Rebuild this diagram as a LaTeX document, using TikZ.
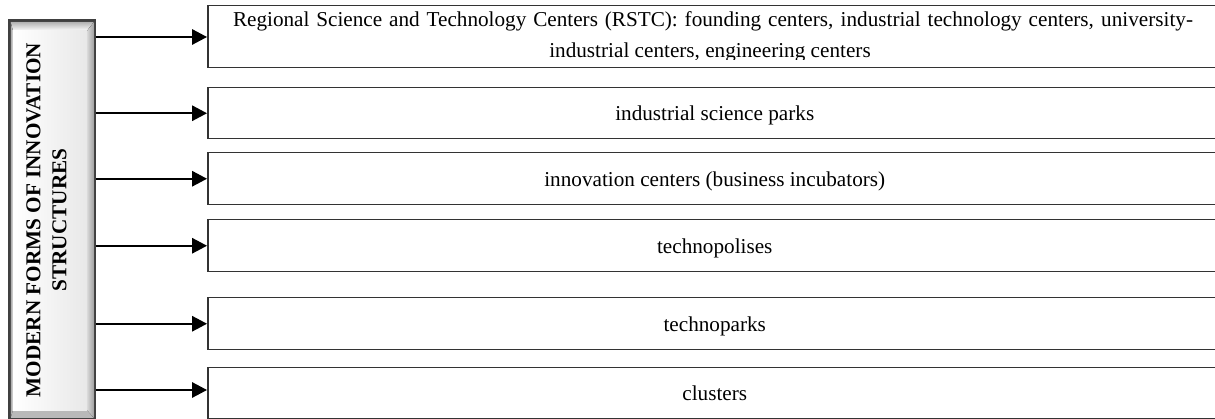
\documentclass[tikz,border=0pt]{standalone}
\usepackage{fontspec}
\setmainfont{Liberation Serif}
\usetikzlibrary{arrows.meta}
\tikzset{
  itembox/.style={draw=black!80, line width=1.5pt, minimum width=1014pt, minimum height=#1,
    inner sep=0pt, anchor=north west, text height=18pt, text depth=3pt,
    font=\fontsize{21.2}{25}\selectfont},
  linetxt/.style={inner sep=0pt, anchor=base, font=\fontsize{21.2}{25}\selectfont},
  conn/.style={line width=1.6pt, -{Triangle[length=15pt,width=15.5pt]}},
  titletxt/.style={rotate=90, align=center, inner sep=0pt, font=\bfseries\fontsize{21.2}{26}\selectfont}
}
\begin{document}
\begin{tikzpicture}[x=1pt,y=-1pt]
\path[use as bounding box] (0,0) rectangle (1215,419);
\begin{scope}
\clip (0,0) rectangle (1215,419);
% left bevelled box
\node[draw=black!75, line width=1.5pt, fill=gray!55, minimum width=85pt, minimum height=398pt, inner sep=0pt] (main) at (52.25,220) {};
\fill[top color=gray!60, bottom color=white] (10.5,22) -- (94,22) -- (87,31) -- (13,31) -- cycle;
\fill[left color=gray!30, right color=gray!75] (87,31) -- (94,22) -- (94,418) -- (87,410) -- cycle;
\fill[left color=gray!70, right color=gray!25] (10.5,22) -- (13,31) -- (13,410) -- (10.5,418) -- cycle;
\fill[left color=white, right color=gray!18] (13,31) rectangle (87,410);
\draw[black!75, line width=1.5pt] (main.north west) rectangle (main.south east);
\node[titletxt] (title) at (46.5,220) {MODERN FORMS OF INNOVATION\\STRUCTURES};
% right boxes
\node[itembox=62pt] (b1) at (207,5) {};
\node[itembox=51pt] (b2) at (207,87) {industrial science parks};
\node[itembox=52pt] (b3) at (207,152) {innovation centers (business incubators)};
\node[itembox=52pt] (b4) at (207,219) {technopolises};
\node[itembox=52pt] (b5) at (207,297) {technoparks};
\node[itembox=51pt] (b6) at (207,367) {clusters};
\begin{scope}
\clip (208,6) rectangle (1221,59.5);
\node[linetxt] (t1a) at (713,26.7) {\makebox[960pt][s]{Regional Science and Technology Centers (RSTC): founding centers, industrial technology centers, university-}};
\node[linetxt] (t1b) at (710,57.3) {industrial centers, engineering centers};
\end{scope}
% connectors
\coordinate (a1) at (b1.west |- 0,37);
\coordinate (a6) at (b6.west |- 0,390);
\draw[conn] (main.east |- a1) -- (a1);
\draw[conn] (main.east |- b2.west) -- (b2.west);
\draw[conn] (main.east |- b3.west) -- (b3.west);
\draw[conn] (main.east |- b4.west) -- (b4.west);
\draw[conn] (main.east |- b5.west) -- (b5.west);
\draw[conn] (main.east |- a6) -- (a6);
\end{scope}
\end{tikzpicture}
\end{document}
